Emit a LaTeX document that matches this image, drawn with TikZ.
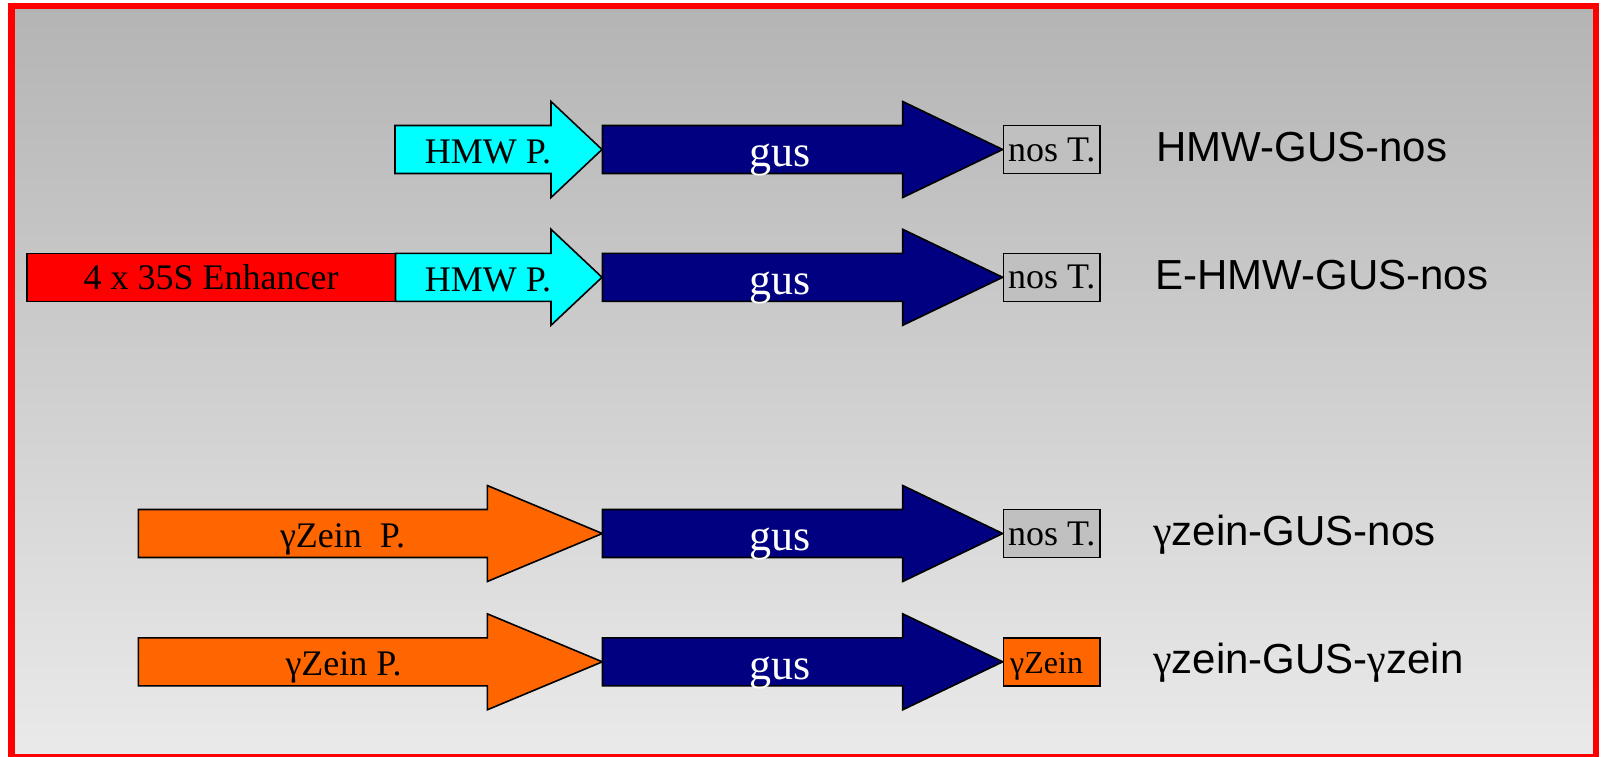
\documentclass[tikz,border=0pt]{standalone}
\usepackage{fontspec}
\setmainfont{Liberation Serif}
\newfontfamily\labelfont{Liberation Sans}
\newfontfamily\greekfont{Liberation Serif}

\definecolor{bgtop}{RGB}{180,180,180}
\definecolor{bgbot}{RGB}{234,234,234}
\definecolor{promcyan}{RGB}{0,255,255}
\definecolor{gusnavy}{RGB}{0,0,128}
\definecolor{enhred}{RGB}{255,0,0}
\definecolor{zeinorange}{RGB}{255,102,0}
\definecolor{termgrey}{RGB}{192,192,192}
\definecolor{framered}{RGB}{255,0,0}

\newcommand{\g}{{\greekfont γ}}

% block arrow: start x, head start x, tip x, centre y, fill colour
\newcommand{\genearrow}[5]{%
  \draw[part,fill=#5] (#1,#4-24) -- (#2,#4-24) -- (#2,#4-48) -- (#3,#4)
    -- (#2,#4+48) -- (#2,#4+24) -- (#1,#4+24) -- cycle;}

\tikzset{
  part/.style={draw=black,line width=1.6pt,line join=miter},
  boxpart/.style={part,rectangle,inner sep=0pt,minimum height=48pt},
  parttext/.style={inner sep=0pt,font=\fontsize{36}{40}\selectfont},
  gustext/.style={inner sep=0pt,text=white,font=\fontsize{44}{48}\selectfont},
  constructlabel/.style={inner sep=0pt,anchor=base west,font=\labelfont\fontsize{42}{46}\selectfont}
}

\begin{document}
\begin{tikzpicture}[x=1pt,y=-1pt]
\useasboundingbox (0,0) rectangle (1601,756);
\fill[white] (0,0) rectangle (1601,756);

% slide background and frame
\shade[top color=bgtop,bottom color=bgbot] (11,6) rectangle (1596,757.5);
\draw[framered,line width=6.5pt] (11.25,6) rectangle (1596,757.5);

% row 1: HMW-GUS-nos
\genearrow{395}{551}{602}{149.5}{promcyan}
\genearrow{602.5}{902.7}{1002.7}{149.5}{gusnavy}
\node[boxpart,fill=termgrey,minimum width=96.7pt,parttext] (nos1) at (1051.7,149.5) {nos T.};
\node[parttext,anchor=base] (hmw1) at (488,163.3) {HMW P.};
\node[gustext,anchor=base] (gus1) at (780,166.7) {gus};
\node[constructlabel] (lab1) at (1156,161.7) {HMW-GUS-nos};

% row 2: E-HMW-GUS-nos
\node[boxpart,fill=enhred,minimum width=368.8pt,parttext] (enh) at (211.1,277.3) {4 x 35S Enhancer};
\genearrow{395.5}{551}{602}{277.3}{promcyan}
\genearrow{602.5}{902.7}{1002.7}{277.3}{gusnavy}
\node[boxpart,fill=termgrey,minimum width=96.7pt,parttext] (nos2) at (1051.7,277.3) {nos T.};
\node[parttext,anchor=base] (hmw2) at (488,291.1) {HMW P.};
\node[gustext,anchor=base] (gus2) at (780,294.5) {gus};
\node[constructlabel] (lab2) at (1155,289.3) {E-HMW-GUS-nos};

% row 3: gamma-zein-GUS-nos
\genearrow{138.3}{487.3}{602.3}{533.5}{zeinorange}
\genearrow{602.5}{902.7}{1002.7}{533.5}{gusnavy}
\node[boxpart,fill=termgrey,minimum width=96.7pt,parttext] (nos3) at (1051.7,533.5) {nos T.};
\node[parttext,anchor=base] (zp3) at (342.5,547.7) {\g Zein\ \ P.};
\node[gustext,anchor=base] (gus3) at (780,550.7) {gus};
\node[constructlabel] (lab3) at (1153,545.5) {\g zein-GUS-nos};

% row 4: gamma-zein-GUS-gamma-zein
\genearrow{138.3}{487.3}{602.3}{661.8}{zeinorange}
\genearrow{602.5}{902.7}{1002.7}{661.8}{gusnavy}
\node[boxpart,fill=zeinorange,minimum width=96.7pt] (zt4) at (1051.7,661.8) {};
\node[inner sep=0pt,anchor=base west,font=\fontsize{32}{36}\selectfont] (ztt4) at (1010,673.5) {\g Zein};
\node[parttext,anchor=base] (zp4) at (343.5,675.9) {\g Zein P.};
\node[gustext,anchor=base] (gus4) at (780,679) {gus};
\node[constructlabel] (lab4) at (1153,673.8) {\g zein-GUS-\g zein};
\end{tikzpicture}
\end{document}
